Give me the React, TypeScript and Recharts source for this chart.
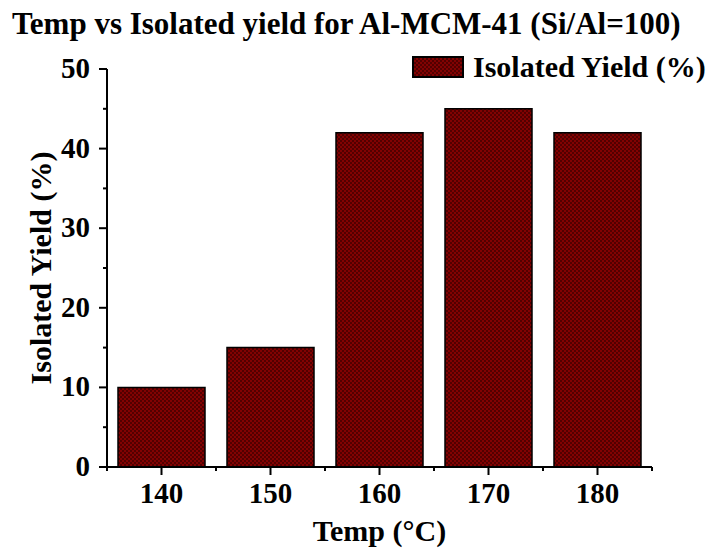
import { Bar, BarChart, Label, Legend, XAxis, YAxis } from "recharts";

const temps = [140, 150, 160, 170, 180];
const yields = [10, 15, 42, 45, 42];
const xTicks = [135, 140, 145, 150, 155, 160, 165, 170, 175, 180, 185];
const yTicks = [0, 5, 10, 15, 20, 25, 30, 35, 40, 45, 50];

const data = temps.map((t, i) => ({ temp: t, yield: yields[i] }));

const font = '"Liberation Serif", "Times New Roman", serif';

function XTick({ x, y, payload }: any) {
    const major = payload.value % 10 === 0;
    return (
        <g>
            <line x1={x} x2={x} y1={y} y2={y + (major ? 8 : 4)} stroke="#000" strokeWidth={2} />
            {major && (
                <text x={x} y={y + 36} textAnchor="middle" fontFamily={font} fontWeight="bold" fontSize={29} fill="#000">
                    {payload.value}
                </text>
            )}
        </g>
    );
}

function YTick({ x, y, payload }: any) {
    const major = payload.value % 10 === 0;
    return (
        <g>
            <line x1={x} x2={x - (major ? 8 : 4)} y1={y} y2={y} stroke="#000" strokeWidth={2} />
            {major && (
                <text x={x - 17} y={y + 9} textAnchor="end" fontFamily={font} fontWeight="bold" fontSize={29} fill="#000">
                    {payload.value}
                </text>
            )}
        </g>
    );
}

function LegendBox({ payload }: any) {
    return (
        <div style={{ display: "flex", alignItems: "center", fontFamily: font, fontWeight: "bold", fontSize: 30 }}>
            {(payload || []).map((p: any) => (
                <div key={p.value} style={{ display: "flex", alignItems: "center", whiteSpace: "nowrap" }}>
                    <svg width={52} height={22} style={{ marginRight: 9 }}>
                        <rect x={1} y={1} width={50} height={20} fill="url(#hatch)" stroke="#000" strokeWidth={2} />
                    </svg>
                    <span>{p.value}</span>
                </div>
            ))}
        </div>
    );
}

export default function App() {
    return (
        <div style={{ position: "absolute", left: 0, top: 0, width: 717, height: 553, background: "#fff" }}>
            <div
                style={{
                    position: "absolute",
                    left: 12,
                    top: 6,
                    fontFamily: font,
                    fontWeight: "bold",
                    fontSize: 31,
                    lineHeight: "36px",
                    whiteSpace: "nowrap",
                }}
            >
                Temp vs Isolated yield for Al-MCM-41 (Si/Al=100)
            </div>
            <BarChart width={717} height={553} data={data} margin={{ top: 69, right: 65, left: 7, bottom: 0 }}>
                <defs>
                    <pattern id="hatch" width={4} height={4} patternUnits="userSpaceOnUse">
                        <rect width={4} height={4} fill="#820202" />
                        <rect width={2} height={2} fill="#520000" />
                        <rect x={2} y={2} width={2} height={2} fill="#520000" />
                    </pattern>
                </defs>
                <XAxis
                    dataKey="temp"
                    type="number"
                    domain={[135, 185]}
                    ticks={xTicks}
                    interval={0}
                    height={86}
                    tickSize={0}
                    tickMargin={0}
                    tickLine={false}
                    axisLine={{ stroke: "#000", strokeWidth: 2 }}
                    tick={<XTick />}
                >
                    <Label
                        value="Temp (°C)"
                        position="insideBottom"
                        offset={12}
                        style={{ fontFamily: font, fontWeight: "bold", fontSize: 30, fill: "#000" }}
                    />
                </XAxis>
                <YAxis
                    type="number"
                    domain={[0, 50]}
                    ticks={yTicks}
                    interval={0}
                    width={100}
                    tickSize={0}
                    tickMargin={0}
                    tickLine={false}
                    axisLine={{ stroke: "#000", strokeWidth: 2 }}
                    tick={<YTick />}
                >
                    <Label
                        content={({ viewBox }: any) => {
                            const cy = viewBox.y + viewBox.height / 2;
                            const lx = 51;
                            return (
                                <text
                                    x={lx}
                                    y={cy}
                                    transform={`rotate(-90, ${lx}, ${cy})`}
                                    textAnchor="middle"
                                    fontFamily={font}
                                    fontWeight="bold"
                                    fontSize={30}
                                    fill="#000"
                                >
                                    Isolated Yield (%)
                                </text>
                            );
                        }}
                    />
                </YAxis>
                <Legend
                    content={<LegendBox />}
                    wrapperStyle={{
                        top: 50,
                        left: 412,
                        width: "auto",
                        right: "auto",
                        bottom: "auto",
                        height: 0,
                        overflow: "visible",
                    }}
                />
                <Bar
                    dataKey="yield"
                    name="Isolated Yield (%)"
                    fill="url(#hatch)"
                    stroke="#000"
                    strokeWidth={1.5}
                    barSize={87}
                    isAnimationActive={false}
                />
            </BarChart>
        </div>
    );
}
